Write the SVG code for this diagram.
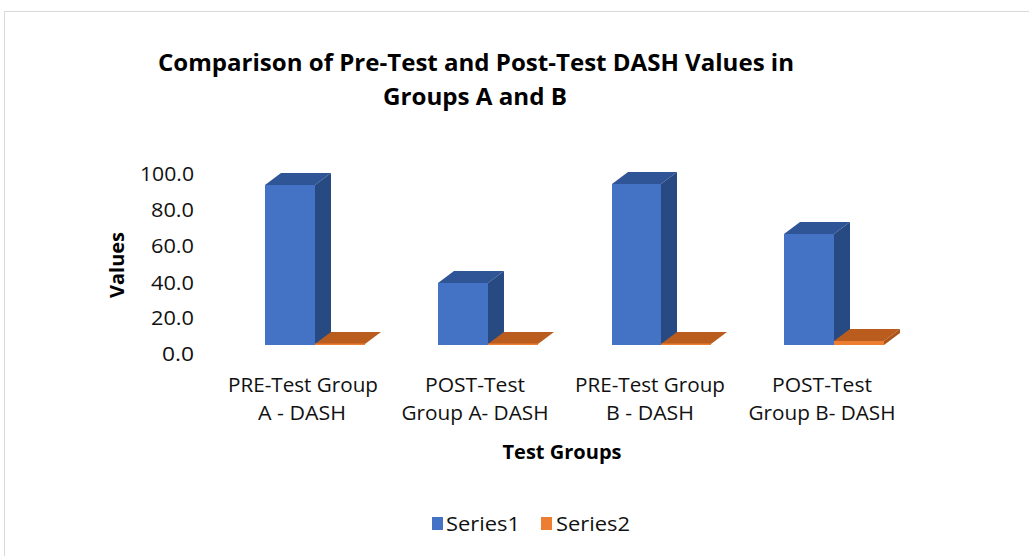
<svg xmlns="http://www.w3.org/2000/svg" width="1029" height="556" viewBox="0 0 1029 556">
<style>
text{font-family:"Open Sans","Noto Sans","Liberation Sans",sans-serif;fill:#000}
.t{font-size:22.5px;font-weight:bold;text-anchor:middle}
.ax{font-size:20px;text-anchor:end;fill:#111}
.cat{font-size:20px;text-anchor:middle;fill:#111}
.bt{font-size:19.5px;font-weight:bold;text-anchor:middle}
.lg{font-size:20px;fill:#111}
.bf{fill:#4472C4}.bs{fill:#284A82}.btp{fill:#2F5597}
.of{fill:#ED7D31}.otp{fill:#BA5C1E}
</style>
<rect x="0" y="0" width="1029" height="556" fill="#fff"/>
<rect x="4.5" y="11.5" width="1040" height="570" fill="#fff" stroke="#d9d9d9" stroke-width="1"/>
<g id="title">
<text class="t" x="476" y="71" textLength="636" lengthAdjust="spacingAndGlyphs">Comparison of Pre-Test and Post-Test DASH Values in</text>
<text class="t" x="475" y="105" textLength="184" lengthAdjust="spacingAndGlyphs">Groups A and B</text>
</g>
<g id="y-axis">
<text class="ax" x="194" y="181" textLength="54" lengthAdjust="spacingAndGlyphs">100.0</text>
<text class="ax" x="194" y="217" textLength="43" lengthAdjust="spacingAndGlyphs">80.0</text>
<text class="ax" x="194" y="253" textLength="43" lengthAdjust="spacingAndGlyphs">60.0</text>
<text class="ax" x="194" y="290" textLength="43" lengthAdjust="spacingAndGlyphs">40.0</text>
<text class="ax" x="194" y="325" textLength="43" lengthAdjust="spacingAndGlyphs">20.0</text>
<text class="ax" x="194" y="361" textLength="32" lengthAdjust="spacingAndGlyphs">0.0</text>
<text class="bt" transform="translate(124,265) rotate(-90)" textLength="66" lengthAdjust="spacingAndGlyphs">Values</text>
</g>
<g id="bars">
<g id="bar-pre-a">
<polygon class="btp" points="265,185 281,173 331,173 315,185"/>
<polygon class="bs" points="315,185 331,173 331,333 315,345"/>
<rect class="bf" x="265" y="185" width="50" height="160"/>
<polygon class="otp" points="315,344 331,332 381,332 365,344"/>
<rect class="of" x="315" y="343.5" width="50" height="1.5"/>
</g>
<g id="bar-post-a">
<polygon class="btp" points="438,283 454,271 504,271 488,283"/>
<polygon class="bs" points="488,283 504,271 504,333 488,345"/>
<rect class="bf" x="438" y="283" width="50" height="62"/>
<polygon class="otp" points="488,344 504,332 554,332 538,344"/>
<rect class="of" x="488" y="343.5" width="50" height="1.5"/>
</g>
<g id="bar-pre-b">
<polygon class="btp" points="612,184 628,172 677,172 661,184"/>
<polygon class="bs" points="661,184 677,172 677,333 661,345"/>
<rect class="bf" x="612" y="184" width="49" height="161"/>
<polygon class="otp" points="661,344 677,332 727,332 711,344"/>
<rect class="of" x="661" y="343.5" width="50" height="1.5"/>
</g>
<g id="bar-post-b">
<polygon class="btp" points="784,234 800,222 850,222 834,234"/>
<polygon class="bs" points="834,234 850,222 850,333 834,345"/>
<rect class="bf" x="784" y="234" width="50" height="111"/>
<polygon class="otp" points="834,341 850,329 900,329 884,341"/>
<rect class="of" x="834" y="341" width="50" height="4"/>
<polygon class="bs" points="884,341 900,329 900,333 884,345" style="fill:#A9541B"/>
</g>
</g>
<g id="categories">
<text class="cat" x="303" y="392" textLength="150" lengthAdjust="spacingAndGlyphs">PRE-Test Group</text>
<text class="cat" x="302" y="420" textLength="88" lengthAdjust="spacingAndGlyphs">A - DASH</text>
<text class="cat" x="475" y="392" textLength="100" lengthAdjust="spacingAndGlyphs">POST-Test</text>
<text class="cat" x="475" y="420" textLength="147" lengthAdjust="spacingAndGlyphs">Group A- DASH</text>
<text class="cat" x="650" y="392" textLength="150" lengthAdjust="spacingAndGlyphs">PRE-Test Group</text>
<text class="cat" x="650" y="420" textLength="88" lengthAdjust="spacingAndGlyphs">B - DASH</text>
<text class="cat" x="822" y="392" textLength="100" lengthAdjust="spacingAndGlyphs">POST-Test</text>
<text class="cat" x="822" y="420" textLength="147" lengthAdjust="spacingAndGlyphs">Group B- DASH</text>
<text class="bt" x="562" y="459" textLength="119" lengthAdjust="spacingAndGlyphs">Test Groups</text>
</g>
<g id="legend">
<rect x="432" y="517" width="11" height="13" fill="#4472C4"/>
<text class="lg" x="446" y="531" textLength="74" lengthAdjust="spacingAndGlyphs">Series1</text>
<rect x="541" y="517" width="11" height="13" fill="#ED7D31"/>
<text class="lg" x="556" y="531" textLength="74" lengthAdjust="spacingAndGlyphs">Series2</text>
</g>
</svg>
